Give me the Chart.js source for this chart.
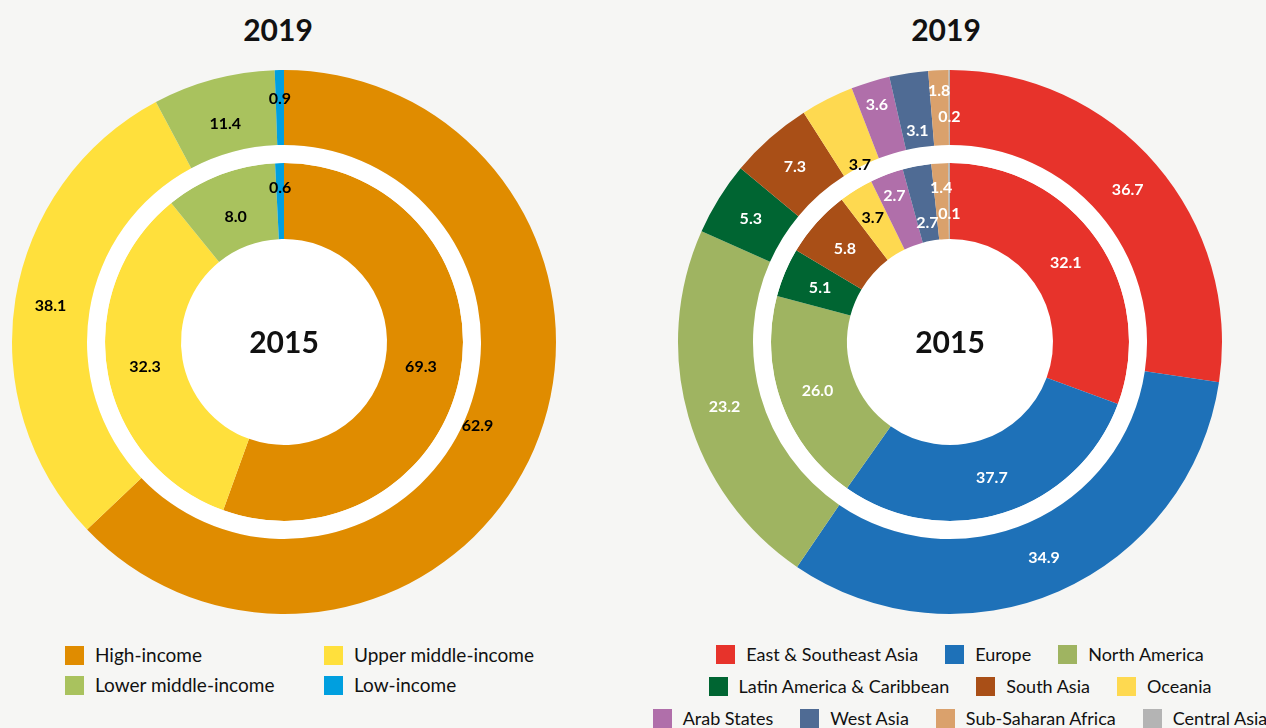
<!DOCTYPE html>
<html>
<head>
<meta charset="utf-8">
<script src="https://cdn.jsdelivr.net/npm/chart.js@4"></script>
<style>
  html, body { margin: 0; padding: 0; background: #f6f6f4; }
  body { width: 1266px; height: 728px; position: relative; overflow: hidden; font-family: Lato, "Noto Sans", sans-serif; color: #111; }
  .title { position: absolute; top: 11px; width: 200px; text-align: center; font-weight: bold; font-size: 30px; line-height: 36px; }
  .chartbox { position: absolute; top: 62px; width: 560px; height: 560px; }
  .legend { position: absolute; font-size: 18px; line-height: 22px; }
  .row { display: flex; align-items: center; white-space: nowrap; }
  .item { display: flex; align-items: center; }
  .box { width: 19px; height: 19px; margin-right: 11px; flex: none; }
</style>
</head>
<body>
<div class="title" style="left:178px">2019</div>
<div class="title" style="left:846px">2019</div>
<div class="chartbox" style="left:4px"><canvas id="incomeChart"></canvas></div>
<div class="chartbox" style="left:670px"><canvas id="regionChart"></canvas></div>
<div class="legend" id="incomeLegend" style="left:65px; top:644px; font-size:19px;"></div>
<div class="legend" id="regionLegend" style="left:640px; top:645px; width:640px;"></div>

<script>
// income groups
const incomeGroups = ['High-income', 'Upper middle-income', 'Lower middle-income', 'Low-income'];
const incomeColors = ['#e08c00', '#ffe03c', '#a9c25e', '#009fdf'];
const income2019 = [62.9, 38.1, 11.4, 0.9];
const income2015 = [69.3, 32.3, 8.0, 0.6];

// regions
const regions = ['East & Southeast Asia', 'Europe', 'North America', 'Latin America & Caribbean',
  'South Asia', 'Oceania', 'Arab States', 'West Asia', 'Sub-Saharan Africa', 'Central Asia'];
const regionColors = ['#e7332b', '#1e71b8', '#9fb461', '#006532', '#a94f17',
  '#fed950', '#b06faa', '#4f6b94', '#daa16c', '#b4b4b4'];
const region2019 = [36.7, 34.9, 23.2, 5.3, 7.3, 3.7, 3.6, 3.1, 1.8, 0.2];
const region2015 = [32.1, 37.7, 26.0, 5.1, 5.8, 3.7, 2.7, 2.7, 1.4, 0.1];
const regionLabelColors = ['#fff', '#fff', '#fff', '#fff', '#fff', '#000', '#fff', '#fff', '#fff', '#fff'];

// in the original figure the slice sizes of the two rings are swapped
// (outer ring drawn with the 2015 shares, inner with 2019) while the printed
// numbers follow the titles. kept as drawn.

const whiteCenter = {
  id: 'whiteCenter',
  beforeDatasetsDraw(chart) {
    const meta = chart.getDatasetMeta(2);
    const arc = meta.data[0];
    if (!arc) return;
    const ctx = chart.ctx;
    ctx.save();
    ctx.fillStyle = '#fff';
    ctx.beginPath();
    ctx.arc(arc.x, arc.y, arc.innerRadius + 1, 0, Math.PI * 2);
    ctx.fill();
    ctx.restore();
  },
  afterDraw(chart) {
    const arc = chart.getDatasetMeta(0).data[0];
    const ctx = chart.ctx;
    ctx.save();
    ctx.fillStyle = '#111';
    ctx.font = 'bold 30px Lato';
    ctx.textAlign = 'center';
    ctx.textBaseline = 'middle';
    ctx.fillText('2015', arc.x, arc.y + 1);
    ctx.restore();
  }
};

const sliceLabels = {
  id: 'sliceLabels',
  afterDatasetsDraw(chart) {
    const ctx = chart.ctx;
    ctx.save();
    ctx.font = 'bold 16px Lato';
    ctx.textAlign = 'center';
    ctx.textBaseline = 'middle';
    chart.data.datasets.forEach((ds, di) => {
      if (!ds.texts) return;
      chart.getDatasetMeta(di).data.forEach((arc, i) => {
        const mid = (arc.startAngle + arc.endAngle) / 2;
        const r = (arc.innerRadius + arc.outerRadius) / 2 + (ds.nudge ? ds.nudge[i] : 0);
        ctx.fillStyle = ds.textColors[i];
        ctx.fillText(ds.texts[i].toFixed(1), arc.x + Math.cos(mid) * r, arc.y + Math.sin(mid) * r + 1);
      });
    });
    ctx.restore();
  }
};

function makeChart(id, colors, outerArcs, outerTexts, innerArcs, innerTexts, textColors, outerNudge, innerNudge) {
  return new Chart(document.getElementById(id), {
    type: 'doughnut',
    data: {
      datasets: [
        { data: outerArcs, backgroundColor: colors, borderWidth: 0, weight: 75,
          texts: outerTexts, textColors: textColors, nudge: outerNudge },
        { data: [1], backgroundColor: ['#ffffff'], borderWidth: 0, weight: 18 },
        { data: innerArcs, backgroundColor: colors, borderWidth: 0, weight: 76,
          texts: innerTexts, textColors: textColors, nudge: innerNudge }
      ]
    },
    options: {
      responsive: false,
      animation: false,
      events: [],
      cutout: 103,
      layout: { padding: 8 },
      plugins: { legend: { display: false }, tooltip: { enabled: false } }
    },
    plugins: [whiteCenter, sliceLabels]
  });
}

document.querySelectorAll('canvas').forEach(c => { c.width = 560; c.height = 560; });

makeChart('incomeChart', incomeColors, income2015, income2019, income2019, income2015,
  incomeColors.map(() => '#000'), [-24, 2, -8, 10], [-2, 0, -6, 14]);
makeChart('regionChart', regionColors, region2015, region2019, region2019, region2015,
  regionLabelColors, [0, 0, 0, 0, 0, -35, 15, -20, 18, -8], [0, 0, 0, 0, 0, 6, 16, -19, 14, -12]);

// html legends
function legendItem(name, color) {
  const it = document.createElement('div');
  it.className = 'item';
  it.innerHTML = '<span class="box" style="background:' + color + '"></span><span>' + name + '</span>';
  return it;
}

const incLeg = document.getElementById('incomeLegend');
incLeg.style.display = 'grid';
incLeg.style.gridTemplateColumns = '259px auto';
incLeg.style.rowGap = '8px';
incomeGroups.forEach((g, i) => incLeg.appendChild(legendItem(g, incomeColors[i])));

const regLeg = document.getElementById('regionLegend');
const rowSizes = [3, 3, 4];
let k = 0;
rowSizes.forEach(n => {
  const row = document.createElement('div');
  row.className = 'row';
  row.style.justifyContent = 'center';
  row.style.gap = '27px';
  row.style.height = '32px';
  for (let j = 0; j < n; j++, k++) row.appendChild(legendItem(regions[k], regionColors[k]));
  regLeg.appendChild(row);
});
regLeg.firstChild.style.marginTop = '-7px';
</script>
</body>
</html>
